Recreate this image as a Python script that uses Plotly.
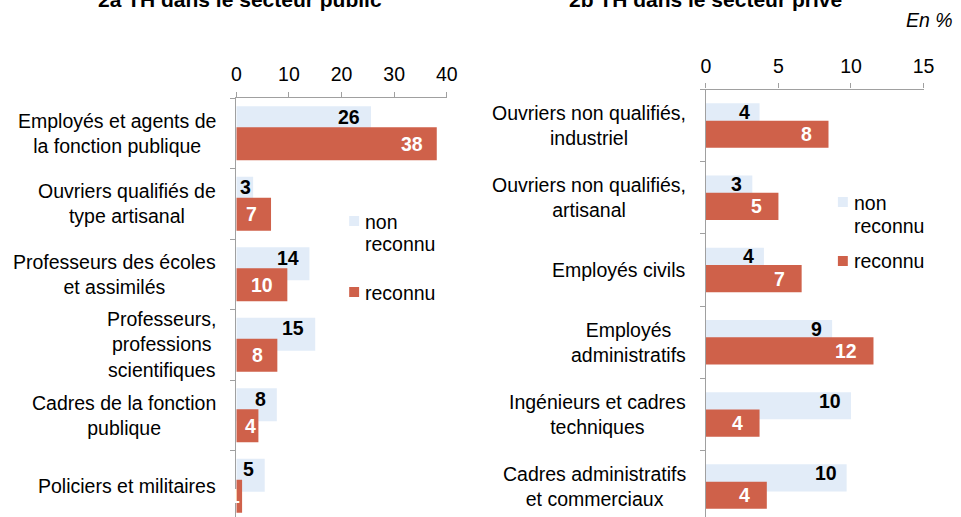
import plotly.graph_objects as go

# layout is designed on a 961 x 517 grid; the page itself is drawn a little wider
GRID_W, H = 961, 517
W = 970
K = W / GRID_W  # css pixels per grid pixel (horizontal)

FONT = "Liberation Sans, Arial, sans-serif"
FS = 19.5

BLUE = "#E2ECF8"
RED = "#CF614A"
AXIS = "#A0A0A0"

# --- data -----------------------------------------------------------------
cat_pub = [
    "Employés et agents de<br>la fonction publique",
    "Ouvriers qualifiés de<br>type artisanal",
    "Professeurs des écoles<br>et assimilés",
    "Professeurs,<br>professions<br>scientifiques",
    "Cadres de la fonction<br>publique",
    "Policiers et militaires",
]
nonrec_pub = [25.6, 3.2, 13.9, 15.0, 7.7, 5.4]
rec_pub = [38.1, 6.6, 9.7, 7.8, 4.2, 1.1]
xticks_pub = [0, 10, 20, 30, 40]

cat_priv = [
    "Ouvriers non qualifiés,<br>industriel",
    "Ouvriers non qualifiés,<br>artisanal",
    "Employés civils",
    "Employés<br>administratifs",
    "Ingénieurs et cadres<br>techniques",
    "Cadres administratifs<br>et commerciaux",
]
nonrec_priv = [3.7, 3.2, 4.0, 8.7, 10.0, 9.7]
rec_priv = [8.45, 5.0, 6.6, 11.55, 3.7, 4.2]
xticks_priv = [0, 5, 10, 15]

series_names = ["non reconnu", "reconnu"]

# --- panel geometry (grid pixels) -----------------------------------------
panels = [
    dict(ax="", cats=cat_pub, nonrec=nonrec_pub, rec=rec_pub, ticks=xticks_pub,
         x0=233, x1=445, top=98, step=70.5, barw=0.467, sep=0.149,
         title="2a TH dans le secteur public", tx=237,
         leg=dict(sx=346.7, by=216, ry=287, t1=221.7, t2=244, t3=292.5),
         pad_b=9, pad_r=12),
    dict(ax="2", cats=cat_priv, nonrec=nonrec_priv, rec=rec_priv, ticks=xticks_priv,
         x0=706, x1=925.3, top=89.5, step=72.2, barw=0.377, sep=0.12,
         title="2b TH dans le secteur privé", tx=706,
         leg=dict(sx=839, by=197, ry=256, t1=203.3, t2=226, t3=261),
         pad_b=8, pad_r=15),
]

fig = go.Figure()
annotations = []
shapes = []


def px_x(p):
    return p / GRID_W


def px_y(p):
    return 1 - p / H


for p in panels:
    n = len(p["cats"])
    idx = list(range(n))
    xref, yref = "x" + p["ax"], "y" + p["ax"]
    xmax = p["ticks"][-1]
    upp = xmax / (p["x1"] - p["x0"])  # data units per grid pixel
    b_off = -p["sep"] - p["barw"] / 2
    r_off = p["sep"] - p["barw"] / 2

    fig.add_trace(go.Bar(
        x=p["nonrec"], y=idx, orientation="h", name=series_names[0],
        offset=b_off, width=p["barw"], marker=dict(color=BLUE, line=dict(width=0)),
        xaxis=xref, yaxis=yref, showlegend=False,
    ))
    fig.add_trace(go.Bar(
        x=p["rec"], y=idx, orientation="h", name=series_names[1],
        offset=r_off, width=p["barw"], marker=dict(color=RED, line=dict(width=0)),
        xaxis=xref, yaxis=yref, showlegend=False,
    ))

    # category labels, centred lines, right-aligned block
    for i, c in enumerate(p["cats"]):
        annotations.append(dict(
            text=c, x=0, xref=xref + " domain", xanchor="right", xshift=-18 * K,
            y=i, yref=yref, yanchor="middle", align="center", showarrow=False,
            font=dict(family=FONT, size=FS, color="black"),
        ))

    # value labels: inside the bar end; short bars keep the label at the bar end
    def lab_x(v, txt, pad):
        text_w = 11 * len(txt)
        if v / upp - pad - text_w < 0:
            return v
        return v - pad * upp

    for i, v in enumerate(p["nonrec"]):
        t = f"{v:.0f}"
        annotations.append(dict(
            text=f"<b>{t}</b>", x=lab_x(v, t, p["pad_b"]), xref=xref, xanchor="right",
            y=i + (b_off + r_off) / 2, yref=yref, yanchor="middle", showarrow=False,
            font=dict(family=FONT, size=FS, color="black"),
        ))
    for i, v in enumerate(p["rec"]):
        t = f"{v:.0f}"
        annotations.append(dict(
            text=f"<b>{t}</b>", x=lab_x(v, t, p["pad_r"]), xref=xref, xanchor="right",
            y=i + p["sep"], yref=yref, yanchor="middle", showarrow=False,
            font=dict(family=FONT, size=FS, color="white"),
        ))

    # axes
    xa = dict(
        domain=[px_x(p["x0"]), px_x(p["x1"])], range=[0, xmax], side="top",
        tickvals=p["ticks"], ticks="outside", ticklen=5, tickcolor=AXIS, tickwidth=1.3,
        showline=True, linecolor=AXIS, linewidth=1.3, showgrid=False, zeroline=False,
        tickfont=dict(family=FONT, size=FS, color="black"), anchor=yref,
        ticklabelstandoff=3, fixedrange=True,
    )
    span = (H - p["top"]) / p["step"]
    ya = dict(
        domain=[0, 1 - p["top"] / H], range=[-0.5 + span, -0.5],
        tickvals=[k - 0.5 for k in range(n + 1)], showticklabels=False,
        ticks="outside", ticklen=5, tickcolor=AXIS, tickwidth=1.3,
        showline=True, linecolor=AXIS, linewidth=1.3, showgrid=False, zeroline=False,
        anchor=xref, fixedrange=True,
    )
    fig.layout["xaxis" + p["ax"]] = xa
    fig.layout["yaxis" + p["ax"]] = ya

    # title (partly above the page)
    annotations.append(dict(
        text=f"<b>{p['title']}</b>", x=px_x(p["tx"]), xref="paper", xanchor="center",
        y=1 + 0.8 / H, yref="paper", yanchor="middle", showarrow=False,
        font=dict(family=FONT, size=21, color="black"),
    ))

    # legend
    lg = p["leg"]
    for col, yy in [(BLUE, lg["by"]), (RED, lg["ry"])]:
        shapes.append(dict(
            type="rect", xref="paper", yref="paper",
            x0=px_x(lg["sx"]), x1=px_x(lg["sx"] + 10),
            y0=px_y(yy + 10), y1=px_y(yy),
            fillcolor=col, line=dict(width=0),
        ))
    for txt, yy in [("non", lg["t1"]), ("reconnu", lg["t2"]), (series_names[1], lg["t3"])]:
        annotations.append(dict(
            text=txt, x=px_x(lg["sx"] + 14), xref="paper", xanchor="left",
            y=px_y(yy), yref="paper", yanchor="middle", showarrow=False,
            font=dict(family=FONT, size=FS, color="black"),
        ))

annotations.append(dict(
    text="<i>En %</i>", x=px_x(957), xref="paper", xanchor="right",
    y=px_y(20), yref="paper", yanchor="middle", showarrow=False,
    font=dict(family=FONT, size=FS, color="black"),
))

fig.update_layout(
    width=W, height=H, autosize=False, margin=dict(l=0, r=0, t=0, b=0),
    paper_bgcolor="white", plot_bgcolor="white",
    barmode="overlay", annotations=annotations, shapes=shapes,
    font=dict(family=FONT, size=FS, color="black"),
)

fig.write_html("out.html", config={"responsive": False})
